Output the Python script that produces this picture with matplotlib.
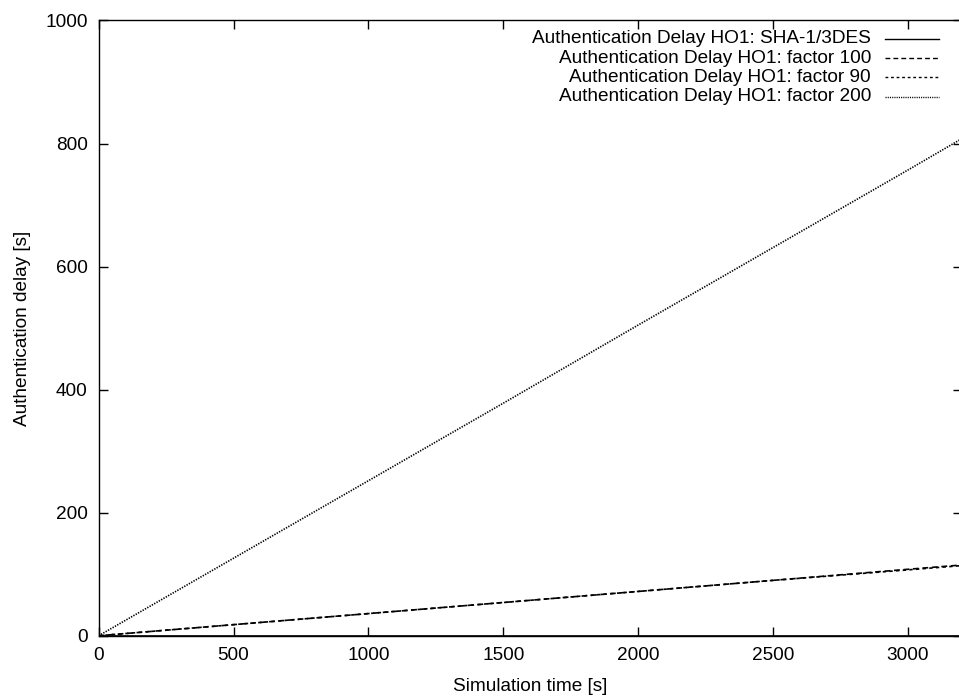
#!/usr/bin/env python3
"""
Authentication delay of HO1 over simulation time for the different crypto cost factors
"""

import matplotlib
matplotlib.use("Agg")
import matplotlib.pyplot as plt
from matplotlib.lines import Line2D

# simulation time [s] and resulting authentication delay [s]
sim_time = [0, 500, 1000, 1500, 2000, 2500, 3000, 3200]
delay_sha3des = [0, 0, 0, 0, 0, 0, 0, 0]
delay_f100 = [0, 18, 36, 54, 72, 90, 108, 115]
delay_f90 = [0, 18, 36, 54, 72, 90, 107, 114]
delay_f200 = [0, 126, 252, 378, 505, 631, 757, 808]

labels = [
    "Authentication Delay HO1: SHA-1/3DES",
    "Authentication Delay HO1: factor 100",
    "Authentication Delay HO1: factor 90",
    "Authentication Delay HO1: factor 200",
]
styles = ["-", (0, (3.5, 2.2)), (0, (2.0, 2.0)), (0, (0.8, 0.8))]

plt.rcParams.update({
    "font.family": ["Liberation Sans", "DejaVu Sans"],
    "font.size": 13.7,
})

fig = plt.figure(figsize=(9.59, 6.96), dpi=100)
ax = fig.add_axes([0.1029, 0.0866, 0.9002, 0.884])

series = [delay_sha3des, delay_f100, delay_f90, delay_f200]
for vals, ls in zip(series, styles):
    ax.plot(sim_time, vals, color="black", lw=1.2, ls=ls)

ax.set_xlim(0, 3200)
ax.set_ylim(0, 1000)
ax.set_xticks(range(0, 3001, 500))
ax.set_yticks(range(0, 1001, 200))
ax.tick_params(direction="in", length=6.5, width=1.0, top=True, right=True)
ax.tick_params(axis="x", pad=8)
ax.tick_params(axis="y", pad=8)
for sp in ax.spines.values():
    sp.set_linewidth(1.0)

ax.set_xlabel("Simulation time [s]", labelpad=10)
ax.set_ylabel("Authentication delay [s]", labelpad=10)

# gnuplot style key: right aligned text with the line sample after it
for i, (lab, ls) in enumerate(zip(labels, styles)):
    y = 0.970 - i * 0.0313
    ax.text(0.8946, y, lab, transform=ax.transAxes, ha="right", va="center")
    ax.add_line(Line2D([0.9108, 0.9733], [y, y], transform=ax.transAxes,
                       color="black", lw=1.0, ls=ls))

fig.savefig("out.png", dpi=100)
